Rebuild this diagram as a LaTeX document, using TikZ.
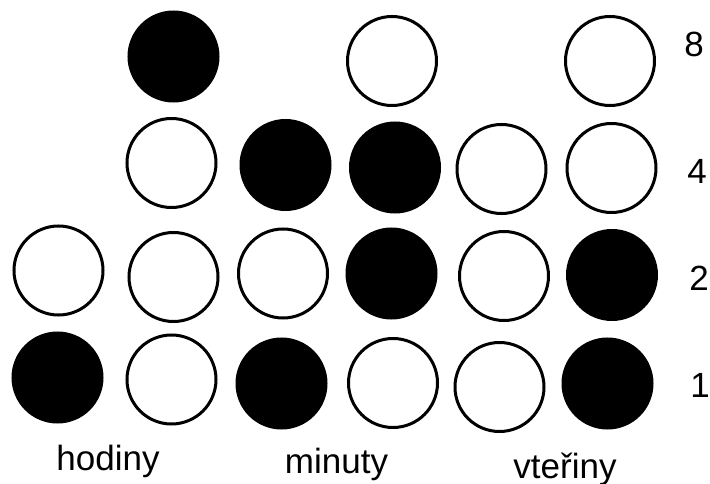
\documentclass[tikz,border=0pt]{standalone}
\usepackage{fontspec}
\setmainfont{Liberation Sans}
\begin{document}
\begin{tikzpicture}[x=1pt,y=-1pt,
  bit/.style={circle,draw=black,line width=3pt,minimum size=89pt,inner sep=0pt},
  on/.style={bit,fill=black},
  off/.style={bit,fill=white},
  lbl/.style={anchor=base,inner sep=0pt,font=\fontsize{35}{40}\selectfont}]
\useasboundingbox (0,0) rectangle (710,484);
% row 8
\node[on]  (h8) at (173.5,56.5) {};
\node[off] (m8) at (392,61) {};
\node[off] (s8) at (610,61) {};
% row 4
\node[off] (h4) at (171.5,163) {};
\node[on]  (mt4) at (285.5,165) {};
\node[on]  (m4) at (395,167.5) {};
\node[off] (st4) at (501.5,169) {};
\node[off] (s4) at (611.5,168) {};
% row 2
\node[off] (ht2) at (58.5,270.5) {};
\node[off] (h2) at (173.5,277) {};
\node[off] (mt2) at (283,273.5) {};
\node[on]  (m2) at (391.5,273.5) {};
\node[off] (st2) at (504,276) {};
\node[on]  (s2) at (612,275) {};
% row 1
\node[on]  (ht1) at (57.5,377.5) {};
\node[off] (h1) at (171.5,379.5) {};
\node[on]  (mt1) at (281.5,383.5) {};
\node[off] (m1) at (393,383) {};
\node[off] (st1) at (499.5,387) {};
\node[on]  (s1) at (607.5,383.5) {};
% weights
\node[lbl] (w8) at (694,57) {8};
\node[lbl] (w4) at (697,183) {4};
\node[lbl] (w2) at (699,290) {2};
\node[lbl] (w1) at (700,397) {1};
% group labels
\node[lbl] (lh) at (108,470) {hodiny};
\node[lbl] (lm) at (336.5,473) {minuty};
\node[lbl] (ls) at (565,478) {vteřiny};
\end{tikzpicture}
\end{document}
